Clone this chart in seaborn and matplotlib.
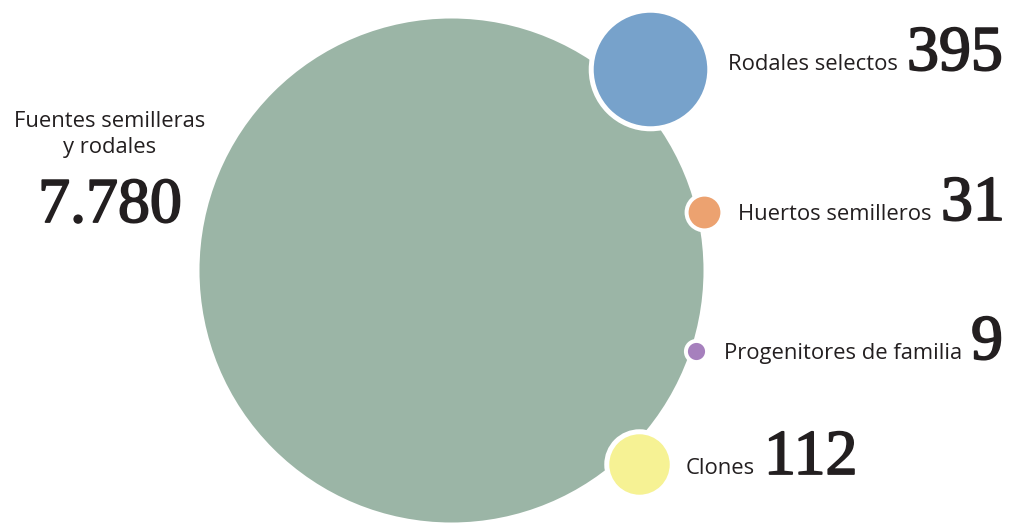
import numpy as np
import pandas as pd
import matplotlib
matplotlib.use("Agg")
import matplotlib.pyplot as plt
import matplotlib.patheffects as pe
import seaborn as sns

# ---- data ----
categories = ["Fuentes semilleras y rodales", "Rodales selectos", "Huertos semilleros",
              "Progenitores de familia", "Clones"]
values = [7780, 395, 31, 9, 112]
value_labels = ["7.780", "395", "31", "9", "112"]
colors = ["#9bb5a6", "#77a2cb", "#eca270", "#a680bd", "#f6f294"]

# ---- layout (pixels, figure coords) ----
W, H, DPI = 1012, 523, 100
big_center = (451, 270)
big_radius = 252
# small bubbles placed around the big one: angle (deg, clockwise from east) and distance from centre
angles = [None, -45.3, -12.9, 18.3, 46.0]
dists = [0, 283, 259.5, 258, 270]

K = big_radius / np.sqrt(values[0])
xs, ys = [], []
for a, d in zip(angles, dists):
    if a is None:
        xs.append(big_center[0]); ys.append(big_center[1])
    else:
        t = np.deg2rad(a)
        xs.append(big_center[0] + d * np.cos(t))
        ys.append(big_center[1] + d * np.sin(t))

edge_px = [0, 5, 4, 4, 5]
radii = [K * np.sqrt(v) + e / 2 for v, e in zip(values, edge_px)]
px2pt = 72 / DPI
sizes = [(2 * r * px2pt) ** 2 for r in radii]

df = pd.DataFrame({"cat": categories, "x": xs, "y": ys, "s": sizes})

sns.set_theme(style="white")
fig = plt.figure(figsize=(W / DPI, H / DPI), dpi=DPI)
ax = fig.add_axes([0, 0, 1, 1])
ax.set_xlim(0, W)
ax.set_ylim(H, 0)
ax.set_aspect("equal")
ax.axis("off")

# big bubble (no edge)
sns.scatterplot(data=df.iloc[[0]], x="x", y="y", hue="cat", size="cat",
                sizes={categories[0]: sizes[0]}, palette={categories[0]: colors[0]},
                linewidth=0, legend=False, ax=ax, alpha=1)
# small bubbles (white ring)
for i in range(1, len(categories)):
    sns.scatterplot(data=df.iloc[[i]], x="x", y="y", hue="cat", size="cat",
                    sizes={categories[i]: sizes[i]}, palette={categories[i]: colors[i]},
                    edgecolor="white", linewidth=edge_px[i] * px2pt,
                    legend=False, ax=ax, alpha=1, zorder=3)

txt = "#231f20"
num_font = dict(family=["Liberation Serif", "DejaVu Serif"], size=46, color=txt,
                path_effects=[pe.withStroke(linewidth=1.3, foreground=txt)])
lab_font = dict(family=["Open Sans", "DejaVu Sans"], size=15.8, color=txt)

# main label
ax.text(110, 127, "Fuentes semilleras", ha="center", va="baseline", **lab_font)
ax.text(110, 153, "y rodales", ha="center", va="baseline", **lab_font)
ax.text(110, 222, value_labels[0], ha="center", va="baseline", **num_font)

# small labels: (number left x, baseline y)
num_pos = [None, (907, 70), (941, 220), (971, 359), (764, 474)]
label_texts = ["", "Rodales selectos", "Huertos semilleros", "Progenitores de familia", "Clones"]
for i in range(1, len(categories)):
    nx, by = num_pos[i]
    ax.text(nx, by, value_labels[i], ha="left", va="baseline", **num_font)
    ax.text(nx - 9, by, label_texts[i], ha="right", va="baseline", **lab_font)

fig.savefig("out.png", dpi=DPI)
